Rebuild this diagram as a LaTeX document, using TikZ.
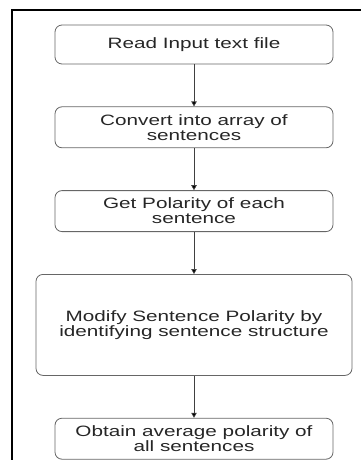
\documentclass[tikz,border=0pt]{standalone}
\usepackage{fontspec}
\newfontfamily\flowfont[FakeStretch=1.38]{Liberation Sans}
\usetikzlibrary{positioning,arrows.meta}

\begin{document}
\begin{tikzpicture}[x=1pt,y=1pt,node distance=42pt,>={Triangle[length=5pt,width=5.5pt]},
  stage/.style={draw=black!60,line width=0.8pt,rounded corners=7pt,minimum width=278pt,minimum height=41pt,
    align=center,text=black!85,inner sep=2pt,font=\flowfont\fontsize{15}{15}\selectfont}]
  \useasboundingbox (0,0) rectangle (361,-460);
  % outer frame, cut off at right and bottom
  \draw[line width=1.2pt] (12,-460) -- (12,-10) -- (361,-10);

  \node[stage,minimum height=39pt] (S1) at (194,-44.5) {Read Input text file};
  \node[stage] (S2) [below=of S1] {Convert into array of\\sentences};
  \node[stage] (S3) [below=of S2] {Get Polarity of each\\sentence};
  \node[stage,minimum width=316pt,minimum height=101pt] (S4) [below=of S3]
    {Modify Sentence Polarity by\\identifying sentence structure};
  \node[stage] (S5) [below=of S4] {Obtain average polarity of\\all sentences};

  \path[->,draw=black!75,line width=0.7pt]
    (S1) edge (S2)
    (S2) edge (S3)
    (S3) edge (S4)
    (S4) edge (S5);
\end{tikzpicture}
\end{document}
